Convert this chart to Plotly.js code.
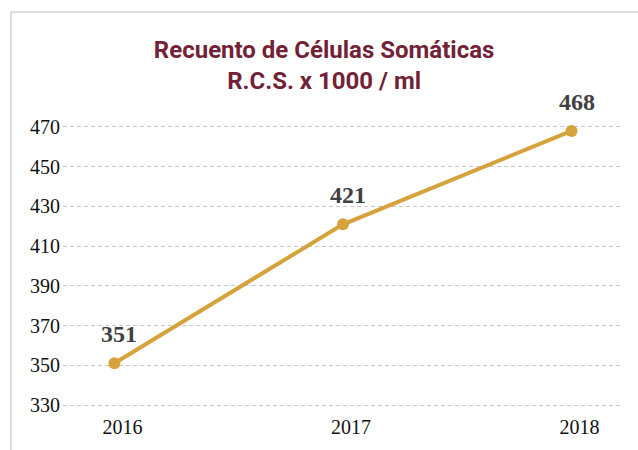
<!DOCTYPE html>
<html>
<head>
<meta charset="utf-8">
<script src="https://cdn.plot.ly/plotly-3.0.1.min.js"></script>
<style>html,body{margin:0;padding:0;background:#fff;}#chart{width:638px;height:450px;}</style>
</head>
<body>
<div id="chart"></div>
<script>
const years = ["2016", "2017", "2018"];
const rcs = [351, 421, 468];
const yTicks = [330, 350, 370, 390, 410, 430, 450, 470];

const xIdx = years.map((_, i) => i);

const trace = {
  x: xIdx,
  y: rcs,
  type: "scatter",
  mode: "lines+markers",
  line: {color: "#D6A23B", width: 4},
  marker: {color: "#D6A23B", size: 12},
  hoverinfo: "skip",
  cliponaxis: false
};

const labelAnn = rcs.map((v, i) => ({
  x: xIdx[i], y: v, xref: "x", yref: "y",
  text: String(v), showarrow: false,
  xshift: 5, yshift: 29,
  font: {family: "Liberation Serif, DejaVu Serif, serif", size: 24, color: "#404040", weight: "bold"}
}));

const layout = {
  width: 638, height: 450,
  margin: {l: 63, r: 15, t: 121, b: 39},
  paper_bgcolor: "#ffffff",
  plot_bgcolor: "#ffffff",
  showlegend: false,
  title: {
    text: "<b>Recuento de Células Somáticas<br>R.C.S. x 1000 / ml</b>",
    font: {family: "Roboto, Liberation Sans, sans-serif", size: 24, color: "#722237"},
    x: 0.508, xref: "container", xanchor: "center",
    y: 0.872, yref: "container", yanchor: "top"
  },
  xaxis: {
    range: [-0.225, 2.225],
    tickmode: "array", tickvals: xIdx, ticktext: years,
    showgrid: false, zeroline: false, showline: false, ticks: "",
    ticklabelshift: 8, ticklabelstandoff: 2,
    tickfont: {family: "Liberation Serif, DejaVu Serif, serif", size: 20, color: "#111111"},
    fixedrange: true
  },
  yaxis: {
    range: [327, 473],
    tickmode: "array", tickvals: yTicks, ticktext: yTicks.map(String),
    showgrid: true, gridcolor: "#c8c8c8", gridwidth: 1, griddash: "4px,3px",
    zeroline: false, showline: false, ticks: "",
    ticklabelstandoff: 2,
    tickfont: {family: "Liberation Serif, DejaVu Serif, serif", size: 20, color: "#111111"},
    fixedrange: true
  },
  annotations: labelAnn,
  shapes: [
    {type: "line", xref: "paper", yref: "paper", x0: -0.0929, x1: -0.0929, y0: -0.14, y1: 1.3759,
     line: {color: "#d0d0d0", width: 1.5}},
    {type: "line", xref: "paper", yref: "paper", x0: -0.0929, x1: 1.1, y0: 1.3759, y1: 1.3759,
     line: {color: "#d0d0d0", width: 1.5}}
  ]
};

Plotly.newPlot("chart", [trace], layout, {displayModeBar: false, staticPlot: true});
</script>
</body>
</html>
